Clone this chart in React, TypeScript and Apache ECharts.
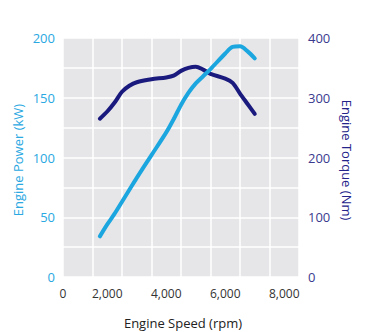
import React, { useEffect, useRef } from "react";
import * as echarts from "echarts";

const rpm = [1750, 2000, 2250, 2500, 2750, 3000, 3500, 4000, 4250, 4500, 4750, 5000, 5250, 5500, 6000, 6250, 6500, 6750, 7000];
const powerKW = [34, 44, 53, 63, 73, 83, 102, 121, 132, 144, 154, 162, 168, 174, 187, 192.5, 193, 189, 183];
const torqueNm = [265, 277, 292, 310, 320, 326, 331, 334, 337, 345, 350, 352, 347, 340, 332, 325, 307, 290, 273];
const xLabelTicks = [0, 2000, 4000, 6000, 8000];

const LIGHT = "#1ba6e0";
const DARK = "#1a1a7e";
const FONT = "'Open Sans', sans-serif";

export default function App() {
  const ref = useRef<HTMLDivElement>(null);
  useEffect(() => {
    if (!ref.current) return;
    const chart = echarts.init(ref.current, null, { renderer: "svg" });
    const fmt = (v: number) => {
      if (v === 500) return "0";
      if (xLabelTicks.includes(v) && v % 2000 === 0) return v.toLocaleString("en-US");
      return "";
    };
    chart.setOption({
      animation: false,
      backgroundColor: "#ffffff",
      grid: { left: 63, right: 67, top: 38, bottom: 55, show: true, backgroundColor: "#e6e6e8", borderWidth: 0 },
      xAxis: [
        {
          type: "value", min: 500, max: 8500, interval: 500,
          axisLine: { show: false }, axisTick: { show: false }, splitLine: { show: false },
          axisLabel: { formatter: fmt, color: "#333333", fontSize: 12, fontFamily: FONT, margin: 10, showMinLabel: true, showMaxLabel: true },
        },
        {
          type: "value", min: 0, max: 8000, interval: 1000,
          axisLine: { show: false }, axisTick: { show: false }, axisLabel: { show: false },
          splitLine: { show: true, lineStyle: { color: "#ffffff", width: 1.5 } },
        },
      ],
      yAxis: [
        {
          type: "value", min: 0, max: 200, interval: 25, position: "left",
          axisLine: { show: false }, axisTick: { show: false },
          axisLabel: { formatter: (v: number) => (v % 50 === 0 ? String(v) : ""), color: "#2aa8e2", fontSize: 13, fontFamily: FONT, margin: 8 },
          splitLine: { show: true, lineStyle: { color: "#ffffff", width: 1.5 } },
        },
        {
          type: "value", min: 0, max: 400, interval: 50, position: "right",
          axisLine: { show: false }, axisTick: { show: false },
          axisLabel: { formatter: (v: number) => (v % 100 === 0 ? String(v) : ""), color: "#3a3a8e", fontSize: 13, fontFamily: FONT, margin: 9 },
          splitLine: { show: false },
        },
      ],
      graphic: [
        { type: "text", x: 18, y: 160, rotation: Math.PI / 2, style: { text: "Engine Power (kW)", fill: "#2aa8e2", font: `13px ${FONT}`, align: "center", verticalAlign: "middle" } },
        { type: "text", x: 347, y: 160, rotation: -Math.PI / 2, style: { text: "Engine Torque (Nm)", fill: "#23238a", font: `13px ${FONT}`, align: "center", verticalAlign: "middle" } },
        { type: "text", x: 183, y: 323, style: { text: "Engine Speed (rpm)", fill: "#222222", font: `13px ${FONT}`, align: "center", verticalAlign: "middle" } },
      ],
      series: [
        {
          type: "line", xAxisIndex: 0, yAxisIndex: 1, data: rpm.map((r, i) => [r, torqueNm[i]]),
          showSymbol: false, smooth: 0.3, lineStyle: { color: DARK, width: 4, cap: "round", join: "round" },
        },
        {
          type: "line", xAxisIndex: 0, yAxisIndex: 0, data: rpm.map((r, i) => [r, powerKW[i]]),
          showSymbol: false, smooth: 0.3, lineStyle: { color: LIGHT, width: 4, cap: "round", join: "round" },
        },
      ],
    });
    return () => chart.dispose();
  }, []);
  return <div ref={ref} style={{ width: 366, height: 332, position: "absolute", left: 0, top: 0 }} />;
}
